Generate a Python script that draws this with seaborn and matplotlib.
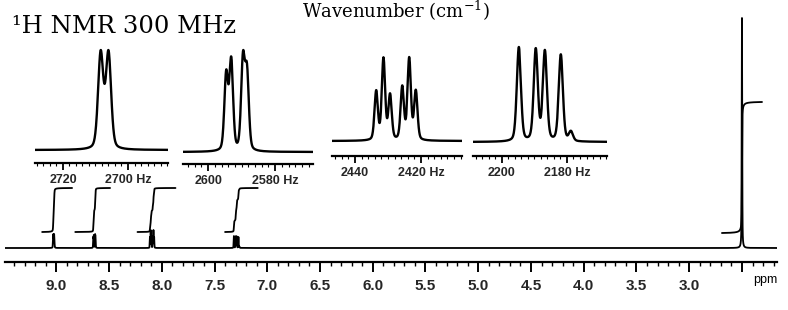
import numpy as np
import pandas as pd
import matplotlib
matplotlib.use("Agg")
import matplotlib.pyplot as plt
from matplotlib.ticker import MultipleLocator, FixedLocator
import seaborn as sns

# --------------------------------------------------------------
# Data: multiplet lines (Hz at 300 MHz)
# --------------------------------------------------------------
h1_lines = [2708.4, 2706.0]
h1_amps = [1.0, 1.0]
h2_lines = [2594.6, 2593.1, 2589.6, 2588.4]
h2_amps = [0.85, 1.0, 1.0, 0.85]
h3_lines = [2433.6, 2431.4, 2429.4, 2425.7, 2423.6, 2421.6]
h3_amps = [0.6, 1.0, 0.55, 0.65, 1.0, 0.6]
h4_lines = [2194.8, 2189.6, 2186.8, 2181.9, 2178.8]
h4_amps = [1.0, 0.97, 0.95, 0.92, 0.1]

line_fwhm = [1.9, 1.3, 1.2, 1.5]           # Hz
inset_heights = [100, 102, 84, 95]         # peak height in the expansions
main_heights = [14, 14, 18, 12]            # peak height in the full spectrum

solvent_ppm = 2.50
solvent_height = 230

# integral traces: (start ppm, end ppm, low level, high level)
integral_start = [9.134, 8.82, 8.23, 7.40, 2.69]
integral_end = [8.85, 8.49, 7.87, 7.09, 2.31]
integral_low = [16, 16, 16, 16, 15]
integral_high = [60, 60, 60, 60, 146]

ppm_ticks = [9.0, 8.5, 8.0, 7.5, 7.0, 6.5, 6.0, 5.5, 5.0, 4.5, 4.0, 3.5, 3.0, 2.5]
ppm_labels = ["9.0", "8.5", "8.0", "7.5", "7.0", "6.5", "6.0", "5.5", "5.0",
              "4.5", "4.0", "3.5", "3.0", ""]

inset_xlim = [(2728.6, 2687.7), (2607.5, 2568.7), (2447.0, 2407.6), (2208.9, 2167.7)]
inset_ticks = [[2720, 2700], [2600, 2580], [2440, 2420], [2200, 2180]]
inset_labels = [["2720", "2700 Hz"], ["2600", "2580 Hz"], ["2440", "2420 Hz"], ["2200", "2180 Hz"]]

multiplets = [(h1_lines, h1_amps), (h2_lines, h2_amps), (h3_lines, h3_amps), (h4_lines, h4_amps)]

W, H = 788, 310


def lineshape(x, lines, amps, fwhm, eta=0.3):
    # pseudo-Voigt: mix of Lorentzian and Gaussian of the same width
    g = fwhm / 2.0
    s = fwhm / 2.3548
    y = np.zeros_like(x)
    for c, a in zip(lines, amps):
        lor = g ** 2 / ((x - c) ** 2 + g ** 2)
        gau = np.exp(-0.5 * ((x - c) / s) ** 2)
        y += a * (eta * lor + (1 - eta) * gau)
    return y


def px_axes(fig, left, right, top, bottom):
    return fig.add_axes([left / W, 1 - bottom / H, (right - left) / W, (bottom - top) / H])


def strip_axes(a):
    a.set_xlabel("")
    a.set_ylabel("")
    for sp in ["top", "left", "right"]:
        a.spines[sp].set_visible(False)
    a.spines["bottom"].set_linewidth(1.6)
    a.spines["bottom"].set_color("black")
    a.set_yticks([])
    a.patch.set_alpha(0)


sns.set_style("white")
plt.rcParams["font.family"] = ["DejaVu Sans"]
plt.rcParams["mathtext.fontset"] = "dejavuserif"

fig = plt.figure(figsize=(W / 100, H / 100), dpi=100)
ink = "black"
lw = 1.3

# --------------------------------------------------------------
# Full spectrum
# --------------------------------------------------------------
ax = px_axes(fig, 5, 777, 0, 262)
ppm = np.linspace(2.168, 9.486, 90000)
spec = lineshape(ppm, [solvent_ppm], [solvent_height], 1.6 / 300, eta=0.5)
for (lines, amps), fw, hmain in zip(multiplets, line_fwhm, main_heights):
    p = lineshape(ppm, np.array(lines) / 300.0, amps, fw / 300.0)
    spec = spec + p / p.max() * hmain

df = pd.DataFrame({"ppm": ppm, "y": spec})
sns.lineplot(data=df, x="ppm", y="y", ax=ax, color=ink, lw=lw, estimator=None, sort=False)

for s, e, lo, hi in zip(integral_start, integral_end, integral_low, integral_high):
    m = (ppm <= s) & (ppm >= e)
    xs = ppm[m][::-1]
    cum = np.cumsum(spec[m][::-1])
    cum = (cum - cum[0]) / (cum[-1] - cum[0])
    sns.lineplot(x=xs, y=lo + cum * (hi - lo), ax=ax, color=ink, lw=lw, estimator=None, sort=False)

ax.set_xlim(9.486, 2.168)
ax.set_ylim(-14, 248)
strip_axes(ax)
ax.xaxis.set_major_locator(FixedLocator(ppm_ticks))
ax.set_xticklabels(ppm_labels)
ax.xaxis.set_minor_locator(MultipleLocator(0.1))
ax.tick_params(axis="x", which="major", direction="out", length=7, width=1.4,
               color=ink, pad=5, labelsize=11)
ax.tick_params(axis="x", which="minor", direction="out", length=3, width=1.0, color=ink)
ax.tick_params(axis="x", which="both", bottom=True)
for t in ax.get_xticklabels():
    t.set_fontweight("bold")
    t.set_fontfamily("Liberation Sans")

# --------------------------------------------------------------
# Expansions
# --------------------------------------------------------------
inset_px = [(35, 168, 163, 13), (183, 313, 164, 12), (332, 462, 156, 15), (473, 607, 156, 14)]
for i, ((lines, amps), fw, hin) in enumerate(zip(multiplets, line_fwhm, inset_heights)):
    left, right, axis_y, gap = inset_px[i]
    top = 38
    ia = px_axes(fig, left, right, top, axis_y)
    x0, x1 = inset_xlim[i]
    hz = np.linspace(x1, x0, 3000)
    y = lineshape(hz, lines, amps, fw)
    y = y / y.max() * hin
    sns.lineplot(x=hz, y=y, ax=ia, color=ink, lw=1.7, estimator=None, sort=False)
    ia.set_xlim(x0, x1)
    ia.set_ylim(-gap, axis_y - top - gap)
    strip_axes(ia)
    ia.xaxis.set_major_locator(FixedLocator(inset_ticks[i]))
    ia.set_xticklabels(inset_labels[i])
    ia.xaxis.set_minor_locator(MultipleLocator(2))
    ia.tick_params(axis="x", which="major", direction="out", length=5, width=1.3,
                   color=ink, pad=3, labelsize=9)
    ia.tick_params(axis="x", which="minor", direction="out", length=2, width=0.8, color=ink)
    ia.tick_params(axis="x", which="both", bottom=True)
    for t in ia.get_xticklabels():
        t.set_fontweight("bold")
        t.set_fontfamily("Liberation Sans")

# --------------------------------------------------------------
# Texts
# --------------------------------------------------------------
fig.text(12 / W, 1 - 33 / H, "¹H NMR 300 MHz", fontsize=17.5, family="DejaVu Serif",
         ha="left", va="baseline", color=ink)
fig.text(396 / W, 1 - 18 / H, r"Wavenumber (cm$^{-1}$)", fontsize=13, family="DejaVu Serif",
         ha="center", va="baseline", color=ink)
fig.text(765 / W, 1 - 280 / H, "ppm", fontsize=9, family="Liberation Sans",
         ha="center", va="center", color=ink)

fig.savefig("out.png", dpi=100, facecolor="white")
